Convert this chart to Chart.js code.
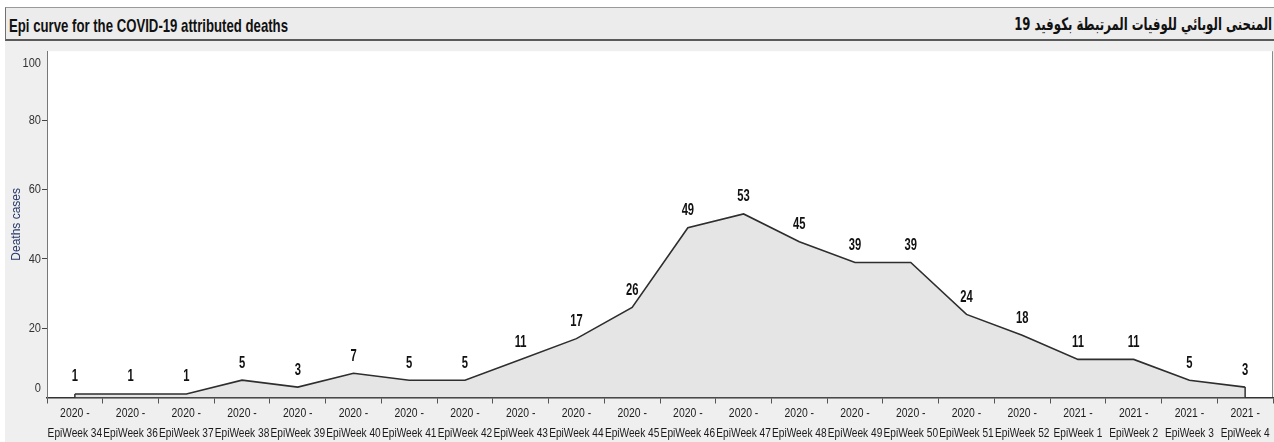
<!DOCTYPE html>
<html>
<head>
<meta charset="utf-8">
<script src="https://cdn.jsdelivr.net/npm/chart.js@4/dist/chart.umd.min.js"></script>
<style>
  html, body { margin: 0; padding: 0; background: #fff; width: 1274px; height: 442px; overflow: hidden; }
  #titlebar {
    position: absolute; left: 5px; top: 7px; width: 1269px; height: 31px;
    background: #ececec; border-top: 1px solid #9a9a9a; border-left: 1px solid #707070;
    border-bottom: 2px solid #5a5a5a; box-sizing: content-box;
    font-weight: bold; color: #111; white-space: nowrap;
  }
  #title-en { position: absolute; left: 3px; top: 8px; font-family: 'Liberation Sans', Arial, sans-serif;
              font-size: 19px; line-height: 19px; transform-origin: left center; }
  #title-ar { position: absolute; right: 3px; top: 7px; direction: rtl; font-family: 'DejaVu Sans', sans-serif;
              font-size: 17px; line-height: 19px; transform-origin: right center; }
  #chartbox { position: absolute; left: 5px; top: 41px; width: 1269px; height: 401px; background: #efefef; }
</style>
</head>
<body>
<div id="titlebar">
  <span id="title-en">Epi curve for the COVID-19 attributed deaths</span>
  <span id="title-ar">المنحنى الوبائي للوفيات المرتبطة بكوفيد 19</span>
</div>
<div id="chartbox"><canvas id="c" width="1269" height="401"></canvas></div>
<script>
// Reporting periods
const years = ['2020','2020','2020','2020','2020','2020','2020','2020','2020','2020','2020',
               '2020','2020','2020','2020','2020','2020','2020','2021','2021','2021','2021'];
const epiWeeks = [34, 36, 37, 38, 39, 40, 41, 42, 43, 44, 45, 46, 47, 48, 49, 50, 51, 52, 1, 2, 3, 4];
// Attributed deaths per epi week
const deaths = [1, 1, 1, 5, 3, 7, 5, 5, 11, 17, 26, 49, 53, 45, 39, 39, 24, 18, 11, 11, 5, 3];
// Value axis ticks
const yTicks = [0, 20, 40, 60, 80, 100];

const labels = years.map((y, i) => [y + ' -', 'EpiWeek ' + epiWeeks[i]]);
const FAMILY = "'Liberation Sans', Arial, sans-serif";

// Narrow title type: squeeze each heading to its column width
function fitWidth(id, target) {
  const el = document.getElementById(id);
  const w = el.getBoundingClientRect().width;
  el.style.transform = 'scaleX(' + (target / w) + ')';
}
fitWidth('title-en', 279);
fitWidth('title-ar', 258);

// Horizontally condensed text on the canvas
function narrowText(ctx, text, x, y, sx) {
  ctx.save();
  ctx.translate(x, y);
  ctx.scale(sx, 1);
  ctx.fillText(text, 0, 0);
  ctx.restore();
}

// White plotting panel with frame, area edges, value and axis labels
const panelPlugin = {
  id: 'panel',
  beforeDraw(chart) {
    const { ctx, chartArea: a } = chart;
    ctx.save();
    ctx.fillStyle = '#ffffff';
    ctx.fillRect(a.left, a.top, a.right - a.left, a.bottom - a.top);
    ctx.strokeStyle = '#8a8a8a';
    ctx.lineWidth = 1;
    ctx.beginPath();
    ctx.moveTo(a.left + 0.5, a.top);
    ctx.lineTo(a.left + 0.5, a.bottom);
    ctx.moveTo(a.right - 0.5, a.top);
    ctx.lineTo(a.right - 0.5, a.bottom);
    ctx.stroke();
    ctx.restore();
  },
  afterDatasetsDraw(chart) {
    const { ctx } = chart;
    const pts = chart.getDatasetMeta(0).data;
    const xs = chart.scales.x, ys = chart.scales.y;
    const y0 = ys.getPixelForValue(0);
    ctx.save();
    // side edges of the filled area
    ctx.strokeStyle = '#333';
    ctx.lineWidth = 1.5;
    ctx.beginPath();
    [pts[0], pts[pts.length - 1]].forEach(p => { ctx.moveTo(p.x, p.y); ctx.lineTo(p.x, y0); });
    ctx.stroke();
    // value labels
    ctx.fillStyle = '#111';
    ctx.font = 'bold 16px ' + FAMILY;
    ctx.textAlign = 'center';
    ctx.textBaseline = 'middle';
    pts.forEach((p, i) => narrowText(ctx, String(deaths[i]), p.x, p.y - 17, 0.7));
    // y tick labels, kept inside the panel height
    ctx.fillStyle = '#333';
    ctx.font = '13px ' + FAMILY;
    ctx.textAlign = 'right';
    yTicks.forEach(v => {
      let py = ys.getPixelForValue(v);
      py = Math.min(Math.max(py, ys.top + 12), ys.bottom - 9);
      narrowText(ctx, String(v), ys.right - 6, py, 0.85);
    });
    // category labels, two lines each
    ctx.fillStyle = '#1a1a1a';
    ctx.textAlign = 'center';
    labels.forEach((lines, i) => {
      const px = xs.getPixelForTick(i);
      narrowText(ctx, lines[0], px, xs.top + 16, 0.8);
      narrowText(ctx, lines[1], px, xs.top + 36, 0.78);
    });
    ctx.restore();
  }
};

new Chart(document.getElementById('c'), {
  type: 'line',
  data: {
    labels,
    datasets: [{
      data: deaths,
      borderColor: '#2e2e2e',
      borderWidth: 1.6,
      backgroundColor: '#e5e5e5',
      fill: 'origin',
      pointRadius: 0,
      tension: 0
    }]
  },
  options: {
    responsive: false,
    animation: false,
    layout: { padding: { top: 4, right: 1, left: 0, bottom: 0 } },
    plugins: { legend: { display: false }, tooltip: { enabled: false } },
    scales: {
      x: {
        offset: true,
        afterFit(s) { s.height = 44.5; },
        grid: { offset: true, drawOnChartArea: false, tickLength: 6, color: '#555' },
        border: { color: '#333', width: 1.5 },
        ticks: {
          autoSkip: false, maxRotation: 0, minRotation: 0, padding: 1,
          color: 'rgba(0,0,0,0)',
          font: { family: FAMILY, size: 8, lineHeight: 1.2 }
        }
      },
      y: {
        min: 0, max: 100,
        afterFit(s) { s.width = 42; },
        afterBuildTicks(s) { s.ticks = yTicks.map(v => ({ value: v })); },
        grid: {
          drawOnChartArea: false, tickLength: 5,
          color: ctx => (ctx.tick && (ctx.tick.value === 0 || ctx.tick.value === 100)) ? 'rgba(0,0,0,0)' : '#444'
        },
        border: { color: '#777' },
        ticks: { display: true, color: 'rgba(0,0,0,0)', font: { family: FAMILY, size: 12 } },
        title: {
          display: true, text: 'Deaths cases', color: '#26396a',
          font: { family: FAMILY, size: 12 }, padding: { top: 4, bottom: 0 }
        }
      }
    }
  },
  plugins: [panelPlugin]
});
</script>
</body>
</html>
